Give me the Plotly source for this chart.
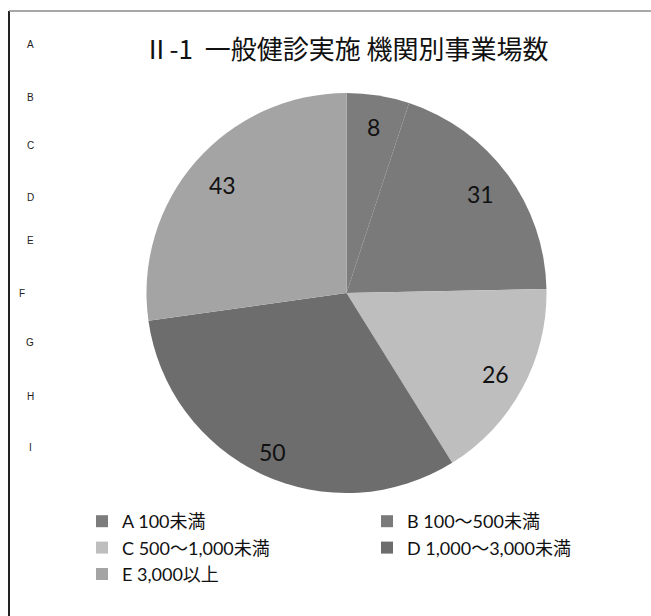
import math
import plotly.graph_objects as go

# --- data -------------------------------------------------------------
categories = ["A 100未満", "B 100～500未満", "C 500～1,000未満",
              "D 1,000～3,000未満", "E 3,000以上"]
counts = [8, 31, 26, 50, 43]
row_letters = ["A", "B", "C", "D", "E", "F", "G", "H", "I"]
title_text = "Ⅱ-1  一般健診実施 機関別事業場数"

# --- styling ----------------------------------------------------------
W, H = 651, 616
slice_colors = ["#7c7c7c", "#7a7a7a", "#bebebe", "#6d6d6d", "#a4a4a4"]
label_radius = [0.84, 0.83, 0.845, 0.875, 0.82]   # fraction of pie radius
letter_x = [30, 30, 30, 30, 30, 22, 30, 30, 30]
letter_y = [45, 98, 145, 198, 240, 293, 343, 396, 447]

# pie placement in pixels
cx, cy, R = 346.5, 293.0, 200.0


def px(x):
    return x / W


def py(y):
    return 1 - y / H


fig = go.Figure(
    go.Pie(
        labels=categories,
        values=counts,
        sort=False,
        direction="clockwise",
        rotation=0,
        marker=dict(colors=slice_colors, line=dict(width=0)),
        textinfo="none",
        hoverinfo="label+value",
        domain=dict(x=[px(cx - R), px(cx + R)], y=[py(cy + R), py(cy - R)]),
    )
)

# value labels placed at each slice's mid-angle
total = sum(counts)
annotations = []
start = 0.0
for i, v in enumerate(counts):
    ang = start + v / total * 180.0
    start += v / total * 360.0
    rr = label_radius[i] * R
    x = cx + rr * math.sin(math.radians(ang))
    y = cy - rr * math.cos(math.radians(ang))
    annotations.append(dict(
        x=px(x), y=py(y), xref="paper", yref="paper", text=str(v),
        showarrow=False, xanchor="center", yanchor="middle",
        font=dict(family="Lato, Carlito, sans-serif", size=23, color="#111111"),
    ))

for letter, lx, ly in zip(row_letters, letter_x, letter_y):
    annotations.append(dict(
        x=px(lx), y=py(ly), xref="paper", yref="paper", text=letter,
        showarrow=False, xanchor="center", yanchor="middle",
        font=dict(family="Liberation Sans, Arial, sans-serif", size=10,
                  color="#222222"),
    ))

fig.update_layout(
    width=W, height=H,
    margin=dict(l=0, r=0, t=0, b=0, autoexpand=False),
    paper_bgcolor="white",
    plot_bgcolor="white",
    title=dict(
        text=title_text, x=px(346), y=py(50), xanchor="center",
        yanchor="middle", xref="paper", yref="container",
        font=dict(family="Noto Sans CJK JP", size=26, color="#111111"),
    ),
    showlegend=True,
    legend=dict(
        orientation="h", x=px(82), y=py(503), xanchor="left", yanchor="top",
        entrywidth=240, entrywidthmode="pixels", itemwidth=30,
        font=dict(family="Lato, Noto Sans CJK JP", size=18, color="#111111"),
        bgcolor="rgba(0,0,0,0)", tracegroupgap=0,
    ),
    annotations=annotations,
    shapes=[
        dict(type="line", xref="paper", yref="paper",
             x0=px(9), x1=px(9), y0=0, y1=py(11),
             line=dict(color="#222222", width=2)),
        dict(type="line", xref="paper", yref="paper",
             x0=px(9), x1=1, y0=py(11), y1=py(11),
             line=dict(color="#8a8a8a", width=1.5)),
    ],
)

fig.write_html("out.html")
